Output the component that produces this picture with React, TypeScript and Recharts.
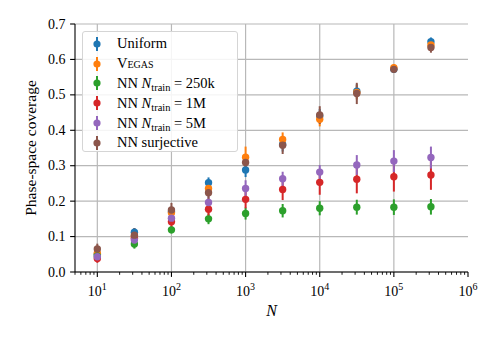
import React from 'react';
import {
  ScatterChart, Scatter, XAxis, YAxis, CartesianGrid, ErrorBar, ReferenceLine, Legend, Label,
} from 'recharts';

const N_VALUES = [10, 31.62, 100, 316.2, 1000, 3162, 10000, 31620, 100000, 316200];

const uniformY = [0.05, 0.112, 0.17, 0.252, 0.288, 0.36, 0.44, 0.51, 0.572, 0.65];
const uniformErr = [0.01, 0.012, 0.01, 0.015, 0.02, 0.02, 0.02, 0.02, 0.01, 0.012];

const vegasY = [0.053, 0.1, 0.167, 0.236, 0.324, 0.374, 0.431, 0.507, 0.577, 0.641];
const vegasErr = [0.01, 0.015, 0.015, 0.02, 0.03, 0.02, 0.02, 0.02, 0.01, 0.01];

const nn250kY = [0.045, 0.079, 0.119, 0.15, 0.165, 0.173, 0.18, 0.183, 0.183, 0.184];
const nn250kErr = [0.012, 0.013, 0.01, 0.015, 0.017, 0.019, 0.02, 0.021, 0.022, 0.022];

const nn1MY = [0.038, 0.095, 0.142, 0.177, 0.205, 0.233, 0.253, 0.262, 0.269, 0.274];
const nn1MErr = [0.012, 0.02, 0.02, 0.022, 0.025, 0.03, 0.035, 0.04, 0.042, 0.042];

const nn5MY = [0.043, 0.09, 0.152, 0.196, 0.236, 0.263, 0.282, 0.302, 0.313, 0.323];
const nn5MErr = [0.01, 0.013, 0.015, 0.02, 0.023, 0.02, 0.02, 0.028, 0.031, 0.031];

const surjY = [0.065, 0.104, 0.175, 0.224, 0.309, 0.358, 0.443, 0.504, 0.572, 0.634];
const surjErr = [0.015, 0.02, 0.02, 0.02, 0.02, 0.025, 0.025, 0.03, 0.01, 0.015];

const X_MAJOR = [10, 100, 1000, 10000, 100000, 1000000];
const X_EXP_LABELS = ['1', '2', '3', '4', '5', '6'];
const X_MINOR = [
  5, 6, 7, 8, 9,
  20, 30, 40, 50, 60, 70, 80, 90,
  200, 300, 400, 500, 600, 700, 800, 900,
  2000, 3000, 4000, 5000, 6000, 7000, 8000, 9000,
  20000, 30000, 40000, 50000, 60000, 70000, 80000, 90000,
  200000, 300000, 400000, 500000, 600000, 700000, 800000, 900000,
];
const X_GRID = [10, 100, 1000, 10000, 100000];
const Y_TICKS = [0, 0.1, 0.2, 0.3, 0.4, 0.5, 0.6, 0.7];
const Y_LABELS = ['0.0', '0.1', '0.2', '0.3', '0.4', '0.5', '0.6', '0.7'];

const FONT = 'Liberation Serif, serif';

const COLORS = {
  uniform: '#1f77b4',
  vegas: '#ff7f0e',
  nn250k: '#2ca02c',
  nn1M: '#d62728',
  nn5M: '#9467bd',
  surj: '#8c564b',
};

const mk = (ys: number[], errs: number[]) =>
  N_VALUES.map((x, i) => ({ x, y: ys[i], err: errs[i] }));

const SERIES = [
  { key: 'uniform', data: mk(uniformY, uniformErr), color: COLORS.uniform },
  { key: 'vegas', data: mk(vegasY, vegasErr), color: COLORS.vegas },
  { key: 'nn250k', data: mk(nn250kY, nn250kErr), color: COLORS.nn250k },
  { key: 'nn1M', data: mk(nn1MY, nn1MErr), color: COLORS.nn1M },
  { key: 'nn5M', data: mk(nn5MY, nn5MErr), color: COLORS.nn5M },
  { key: 'surj', data: mk(surjY, surjErr), color: COLORS.surj },
];

const Sub = ({ children }: { children: React.ReactNode }) => (
  <span style={{ fontSize: '0.72em', position: 'relative', top: '0.3em' }}>{children}</span>
);

const NTrain = ({ v }: { v: string }) => (
  <span>
    NN <i>N</i><Sub>train</Sub> = {v}
  </span>
);

const LEGEND_ITEMS: { color: string; label: React.ReactNode }[] = [
  { color: COLORS.uniform, label: 'Uniform' },
  { color: COLORS.vegas, label: <span style={{ fontVariant: 'small-caps' }}>Vegas</span> },
  { color: COLORS.nn250k, label: <NTrain v="250k" /> },
  { color: COLORS.nn1M, label: <NTrain v="1M" /> },
  { color: COLORS.nn5M, label: <NTrain v="5M" /> },
  { color: COLORS.surj, label: 'NN surjective' },
];

const renderLegend = () => (
  <div
    style={{
      border: '1px solid #d5d5d5',
      borderRadius: 3,
      background: 'rgba(255,255,255,0.85)',
      width: 156,
      height: 121,
      boxSizing: 'border-box',
      paddingTop: 2,
      fontFamily: FONT,
      fontSize: 14.5,
      color: '#000',
    }}
  >
    {LEGEND_ITEMS.map((it, i) => (
      <div key={i} style={{ height: 19.8, display: 'flex', alignItems: 'center', whiteSpace: 'nowrap' }}>
        <svg width={30} height={16} style={{ marginLeft: 4, flexShrink: 0 }}>
          <line x1={10} x2={10} y1={1} y2={15} stroke={it.color} strokeWidth={2} />
          <circle cx={10} cy={8} r={3.6} fill={it.color} />
        </svg>
        <span>{it.label}</span>
      </div>
    ))}
  </div>
);

const XTick = (props: any) => {
  const { x, y, payload } = props;
  const v = payload.value;
  const idx = X_MAJOR.indexOf(v);
  if (idx < 0) {
    return <line x1={x} x2={x} y1={y} y2={y + 2.8} stroke="#000" strokeWidth={0.9} />;
  }
  return (
    <g>
      <line x1={x} x2={x} y1={y} y2={y + 4.9} stroke="#000" strokeWidth={1.1} />
      <text x={x} y={y + 24} textAnchor="middle" fontFamily={FONT} fontSize={14} fill="#000">
        <tspan>10</tspan>
        <tspan dy={-6} fontSize={10}>{X_EXP_LABELS[idx]}</tspan>
      </text>
    </g>
  );
};

const YTick = (props: any) => {
  const { x, y, payload } = props;
  const idx = Y_TICKS.indexOf(payload.value);
  return (
    <g>
      <line x1={x - 4.9} x2={x} y1={y} y2={y} stroke="#000" strokeWidth={1.1} />
      <text x={x - 9.5} y={y} dy={4.6} textAnchor="end" fontFamily={FONT} fontSize={14} fill="#000">
        {idx >= 0 ? Y_LABELS[idx] : ''}
      </text>
    </g>
  );
};

const Dot = (color: string) => (props: any) => {
  const { cx, cy } = props;
  if (cx == null || cy == null) return <g />;
  return <circle cx={cx} cy={cy} r={3.7} fill={color} />;
};

export default function App() {
  return (
    <div style={{ position: 'absolute', left: 0, top: 0, background: '#fff' }}>
      <ScatterChart
        width={498}
        height={342}
        margin={{ top: 24, right: 30, bottom: 30, left: 30 }}
      >
        <CartesianGrid vertical={false} stroke="#b8b8b8" strokeWidth={1.2} />
        {X_GRID.map((g) => (
          <ReferenceLine key={g} x={g} stroke="#b8b8b8" strokeWidth={1.2} />
        ))}
        <XAxis
          dataKey="x"
          type="number"
          scale="log"
          domain={[5, 1000000]}
          allowDataOverflow
          ticks={[...X_MAJOR, ...X_MINOR]}
          interval={0}
          tick={<XTick />}
          tickLine={false}
          tickSize={0}
          tickMargin={0}
          height={40}
          axisLine={{ stroke: '#000', strokeWidth: 1.1 }}
        >
          <Label
            content={(p: any) => {
              const vb = p.viewBox;
              return (
                <text
                  x={vb.x + vb.width / 2}
                  y={vb.y + 44}
                  textAnchor="middle"
                  fontFamily={FONT}
                  fontStyle="italic"
                  fontSize={16}
                  fill="#000"
                >
                  N
                </text>
              );
            }}
          />
        </XAxis>
        <XAxis
          xAxisId="top"
          orientation="top"
          dataKey="x"
          type="number"
          scale="log"
          domain={[5, 1000000]}
          allowDataOverflow
          tick={false}
          tickLine={false}
          height={0}
          axisLine={{ stroke: '#000', strokeWidth: 1.1 }}
        />
        <YAxis
          dataKey="y"
          type="number"
          domain={[0, 0.7]}
          ticks={Y_TICKS}
          interval={0}
          tick={<YTick />}
          tickLine={false}
          tickSize={0}
          tickMargin={0}
          width={45}
          axisLine={{ stroke: '#000', strokeWidth: 1.1 }}
        >
          <Label
            content={(p: any) => {
              const vb = p.viewBox;
              const cx = vb.x;
              const cy = vb.y + vb.height / 2;
              return (
                <text
                  x={cx}
                  y={cy}
                  textAnchor="middle"
                  dominantBaseline="central"
                  transform={`rotate(-90 ${cx} ${cy})`}
                  fontFamily={FONT}
                  fontSize={15.5}
                  fill="#000"
                >
                  Phase-space coverage
                </text>
              );
            }}
          />
        </YAxis>
        <YAxis
          yAxisId="right"
          orientation="right"
          type="number"
          domain={[0, 0.7]}
          tick={false}
          tickLine={false}
          width={0}
          axisLine={{ stroke: '#000', strokeWidth: 1.1 }}
        />
        <Legend
          layout="vertical"
          align="center"
          verticalAlign="middle"
          content={renderLegend}
          wrapperStyle={{ position: 'absolute', left: 82, top: 31, width: 156, height: 121 }}
        />
        {SERIES.map((s) => (
          <Scatter
            key={s.key}
            name={s.key}
            data={s.data}
            fill={s.color}
            shape={Dot(s.color)}
            isAnimationActive={false}
          >
            <ErrorBar dataKey="err" direction="y" width={0} stroke={s.color} strokeWidth={2} />
          </Scatter>
        ))}
      </ScatterChart>
    </div>
  );
}
